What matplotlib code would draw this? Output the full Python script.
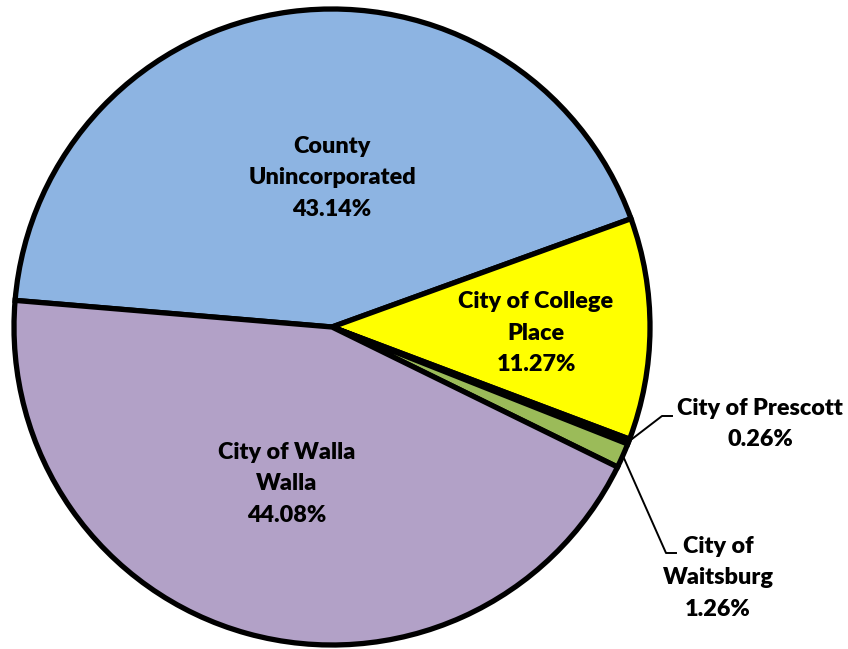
import numpy as np
import matplotlib.pyplot as plt

# Share of total by jurisdiction (percent)
categories = ['County\nUnincorporated', 'City of College\nPlace', 'City of Prescott',
              'City of\nWaitsburg', 'City of Walla\nWalla']
shares = [43.14, 11.27, 0.26, 1.26, 44.08]
colors = ['#8DB4E2', '#FFFF00', '#1F3A10', '#9BBB59', '#B2A1C7']

# label anchor points (pixel coords, top-left origin)
label_xy = [(332, 178), (536, 333), (760, 424), (718, 578), (287, 484)]

W, H = 848, 649
cx, cy, r = 332, 327, 318

fig = plt.figure(figsize=(W / 100, H / 100), dpi=100)
ax = fig.add_axes([0, 0, 1, 1])

wedges, _ = ax.pie(shares, colors=colors, startangle=175.2, counterclock=False,
                   center=(cx, H - cy), radius=r, frame=True,
                   wedgeprops=dict(edgecolor='black', linewidth=3.8))
ax.set_xlim(0, W)
ax.set_ylim(0, H)
ax.set_aspect('equal')
ax.axis('off')

for name, val, (lx, ly) in zip(categories, shares, label_xy):
    ax.text(lx, H - ly, f"{name}\n{val:.2f}%", ha='center', va='center',
            fontsize=16.8, fontweight='heavy', family=['Lato', 'DejaVu Sans'],
            linespacing=1.62)

# leader lines for the two small slices
for i, (kx, ky, ex) in zip([2, 3], [(662, 416, 672), (666, 553, 676)]):
    w = wedges[i]
    mid = np.deg2rad((w.theta1 + w.theta2) / 2)
    px = cx + r * np.cos(mid)
    py = (H - cy) + r * np.sin(mid)
    ax.plot([px, kx, ex], [py, H - ky, H - ky], color='black', lw=1.4)

fig.savefig('out.png', dpi=100)
